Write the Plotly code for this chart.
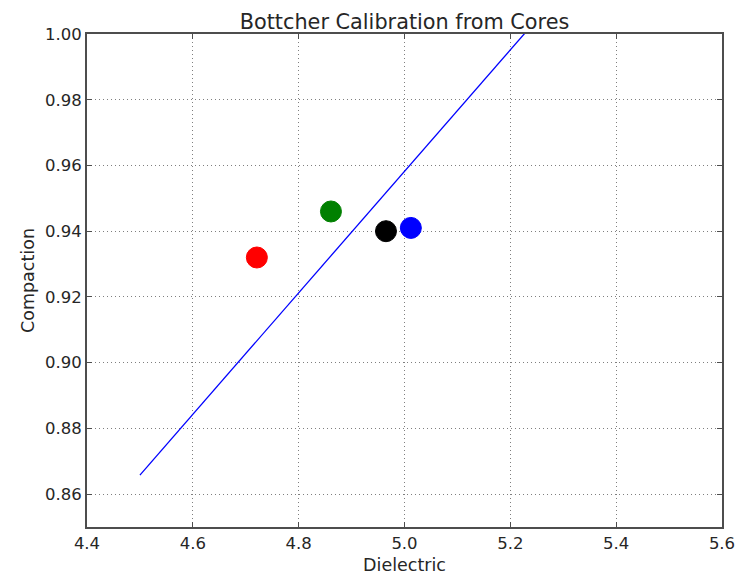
import plotly.graph_objects as go

# Data
core_dielectric = [4.721, 4.861, 4.965, 5.012]
core_compaction = [0.932, 0.946, 0.940, 0.941]
core_colors = ["red", "green", "black", "blue"]

fit_dielectric = [4.5, 5.5]
fit_compaction = [0.8658, 1.0506]

x_ticks = [4.4, 4.6, 4.8, 5.0, 5.2, 5.4, 5.6]
y_ticks = [0.86, 0.88, 0.90, 0.92, 0.94, 0.96, 0.98, 1.00]

TEXT = "#262626"

fig = go.Figure()
fig.add_trace(go.Scatter(x=fit_dielectric, y=fit_compaction, mode="lines",
                         line=dict(color="blue", width=1.3), showlegend=False))
fig.add_trace(go.Scatter(x=core_dielectric, y=core_compaction, mode="markers",
                         marker=dict(color=core_colors, size=21,
                                     line=dict(color=core_colors, width=1)),
                         showlegend=False))

axis_common = dict(showline=True, linecolor="#4d4d4d", linewidth=1.8, mirror="ticks",
                   ticks="inside", ticklen=5, tickcolor="#4d4d4d", tickwidth=1,
                   showgrid=True, gridcolor="#7f7f7f", griddash="1px,3px", gridwidth=1,
                   zeroline=False, automargin=False,
                   tickfont=dict(size=16.5, color=TEXT))

fig.update_xaxes(range=[4.4, 5.6], tickvals=x_ticks,
                 ticktext=[f"{v:.1f}" for v in x_ticks],
                 title=dict(text="Dielectric", font=dict(size=17.5, color=TEXT), standoff=7),
                 **axis_common)
fig.update_yaxes(range=[0.85, 1.00], tickvals=y_ticks,
                 ticktext=[f"{v:.2f}" for v in y_ticks],
                 title=dict(text="Compaction", font=dict(size=17.5, color=TEXT), standoff=6),
                 **axis_common)

fig.update_layout(width=741, height=577, plot_bgcolor="white", paper_bgcolor="white",
                  margin=dict(l=87, r=19, t=34, b=50),
                  font=dict(family="DejaVu Sans", color=TEXT),
                  title=dict(text="Bottcher Calibration from Cores", x=0.5, xref="paper",
                             xanchor="center",
                             y=1, yref="paper", yanchor="bottom", pad=dict(b=5),
                             font=dict(size=20.8, color=TEXT)))

fig.write_html("out.html")
